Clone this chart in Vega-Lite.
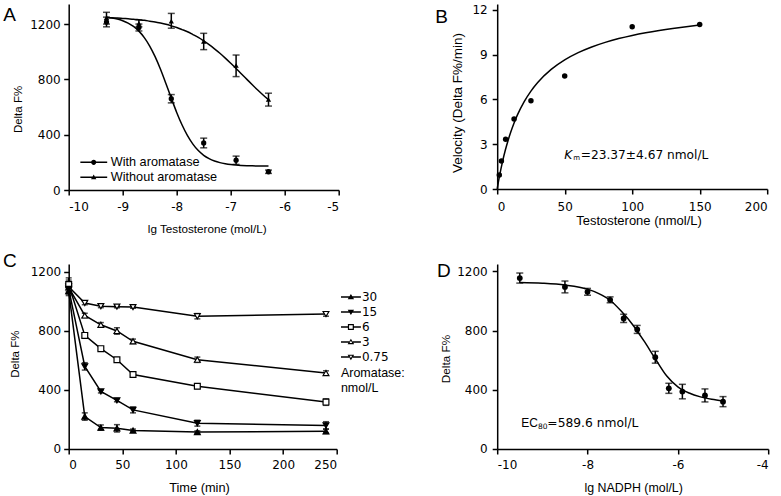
{
  "$schema": "https://vega.github.io/schema/vega-lite/v6.json",
  "background": "white",
  "padding": {"left": 2.7, "top": 3, "right": 0, "bottom": 0},
  "columns": 2,
  "bounds": "flush",
  "spacing": {"row": 74, "column": 158.5},
  "resolve": {"scale": {"shape": "independent", "fill": "independent"}, "legend": {"shape": "independent", "fill": "independent"}},
  "config": {
    "font": "Liberation Sans",
    "view": {"stroke": null},
    "axis": {"grid": false, "domainColor": "#000", "tickColor": "#000", "labelColor": "#000", "titleColor": "#000", "domainWidth": 1.5, "tickWidth": 1.5, "tickSize": 5, "labelFont": "DejaVu Sans", "labelFontSize": 12, "titleFont": "Liberation Sans", "titleFontWeight": "normal", "titleFontSize": 12, "titleBaseline": "middle", "format": "d"},
    "axisX": {"labelPadding": 6, "labelAngle": 0},
    "axisY": {"labelPadding": 3.5},
    "legend": {"labelFont": "Liberation Sans", "labelColor": "#000", "titleFont": "Liberation Sans", "titleFontWeight": "normal", "titleColor": "#000", "padding": 0, "rowPadding": 0, "symbolFillColor": "#000", "symbolStrokeWidth": 0}
  },
  "datasets": {
    "curveA": [
      {"series":"w","x":-9.3,"y":1250},{"series":"w","x":-9.2,"y":1244},{"series":"w","x":-9.1,"y":1236},{"series":"w","x":-9.0,"y":1224},{"series":"w","x":-8.9,"y":1207},{"series":"w","x":-8.8,"y":1183},{"series":"w","x":-8.7,"y":1149},{"series":"w","x":-8.6,"y":1102},{"series":"w","x":-8.5,"y":1041},{"series":"w","x":-8.4,"y":964},{"series":"w","x":-8.3,"y":873},{"series":"w","x":-8.2,"y":770},{"series":"w","x":-8.1,"y":664},{"series":"w","x":-8.0,"y":561},{"series":"w","x":-7.9,"y":470},{"series":"w","x":-7.8,"y":393},{"series":"w","x":-7.7,"y":332},{"series":"w","x":-7.6,"y":285},{"series":"w","x":-7.5,"y":251},{"series":"w","x":-7.4,"y":227},{"series":"w","x":-7.3,"y":210},{"series":"w","x":-7.2,"y":198},{"series":"w","x":-7.1,"y":190},{"series":"w","x":-7.0,"y":184},{"series":"w","x":-6.9,"y":180},{"series":"w","x":-6.8,"y":177.5},{"series":"w","x":-6.7,"y":175.7},{"series":"w","x":-6.6,"y":174.5},{"series":"w","x":-6.5,"y":173.7},{"series":"w","x":-6.4,"y":173.2},{"series":"w","x":-6.3,"y":172.8},
      {"series":"wo","x":-9.3,"y":1247},{"series":"wo","x":-9.2,"y":1245},{"series":"wo","x":-9.1,"y":1244},{"series":"wo","x":-9.0,"y":1241},{"series":"wo","x":-8.9,"y":1238},{"series":"wo","x":-8.8,"y":1235},{"series":"wo","x":-8.7,"y":1231},{"series":"wo","x":-8.6,"y":1227},{"series":"wo","x":-8.5,"y":1221},{"series":"wo","x":-8.4,"y":1215},{"series":"wo","x":-8.3,"y":1207},{"series":"wo","x":-8.2,"y":1198},{"series":"wo","x":-8.1,"y":1187},{"series":"wo","x":-8.0,"y":1175},{"series":"wo","x":-7.9,"y":1160},{"series":"wo","x":-7.8,"y":1144},{"series":"wo","x":-7.7,"y":1124},{"series":"wo","x":-7.6,"y":1103},{"series":"wo","x":-7.5,"y":1078},{"series":"wo","x":-7.4,"y":1051},{"series":"wo","x":-7.3,"y":1021},{"series":"wo","x":-7.2,"y":989},{"series":"wo","x":-7.1,"y":954},{"series":"wo","x":-7.0,"y":917},{"series":"wo","x":-6.9,"y":879},{"series":"wo","x":-6.8,"y":839},{"series":"wo","x":-6.7,"y":800},{"series":"wo","x":-6.6,"y":761},{"series":"wo","x":-6.5,"y":723},{"series":"wo","x":-6.4,"y":687},{"series":"wo","x":-6.3,"y":653}
    ],
    "pointsA": [
      {"series":"With aromatase","x":-9.3,"y":1215,"lo":1180,"hi":1250},
      {"series":"With aromatase","x":-8.7,"y":1175,"lo":1150,"hi":1200},
      {"series":"With aromatase","x":-8.1,"y":660,"lo":630,"hi":690},
      {"series":"With aromatase","x":-7.5,"y":340,"lo":305,"hi":375},
      {"series":"With aromatase","x":-6.9,"y":215,"lo":185,"hi":245},
      {"series":"With aromatase","x":-6.3,"y":132,"lo":120,"hi":144},
      {"series":"Without aromatase","x":-9.3,"y":1245,"lo":1200,"hi":1285},
      {"series":"Without aromatase","x":-8.7,"y":1205,"lo":1180,"hi":1230},
      {"series":"Without aromatase","x":-8.1,"y":1220,"lo":1170,"hi":1277},
      {"series":"Without aromatase","x":-7.5,"y":1075,"lo":1015,"hi":1133},
      {"series":"Without aromatase","x":-6.9,"y":900,"lo":820,"hi":976},
      {"series":"Without aromatase","x":-6.3,"y":655,"lo":607,"hi":700}
    ],
    "curveB": [
      {"x":0,"y":0},{"x":1,"y":0.521},{"x":2,"y":1.001},{"x":4,"y":1.856},{"x":6,"y":2.594},{"x":8,"y":3.239},{"x":10,"y":3.806},{"x":12.5,"y":4.426},{"x":15,"y":4.965},{"x":20,"y":5.857},{"x":25,"y":6.564},{"x":30,"y":7.139},{"x":40,"y":8.016},{"x":50,"y":8.655},{"x":60,"y":9.14},{"x":70,"y":9.521},{"x":80,"y":9.829},{"x":90,"y":10.082},{"x":100,"y":10.294},{"x":110,"y":10.475},{"x":120,"y":10.63},{"x":130,"y":10.765},{"x":140,"y":10.883},{"x":150,"y":10.988}
    ],
    "pointsB": [
      {"x":1.5625,"y":0.94},{"x":3.125,"y":1.88},{"x":6.25,"y":3.33},{"x":12.5,"y":4.69},{"x":25,"y":5.92},{"x":50,"y":7.58},{"x":100,"y":10.88},{"x":150,"y":11.02}
    ],
    "pointsC": [
      {"series":"0.75","x":0,"y":1100,"lo":1040,"hi":1160},{"series":"0.75","x":15,"y":990,"lo":978,"hi":1002},{"series":"0.75","x":30,"y":968,"lo":958,"hi":978},{"series":"0.75","x":45,"y":965,"lo":957,"hi":973},{"series":"0.75","x":60,"y":962,"lo":954,"hi":970},{"series":"0.75","x":120,"y":900,"lo":882,"hi":918},{"series":"0.75","x":240,"y":915,"lo":900,"hi":930},
      {"series":"3","x":0,"y":1095,"lo":1070,"hi":1120},{"series":"3","x":15,"y":905,"lo":890,"hi":920},{"series":"3","x":30,"y":842,"lo":827,"hi":857},{"series":"3","x":45,"y":800,"lo":778,"hi":822},{"series":"3","x":60,"y":730,"lo":715,"hi":745},{"series":"3","x":120,"y":605,"lo":587,"hi":623},{"series":"3","x":240,"y":515,"lo":500,"hi":530},
      {"series":"6","x":0,"y":1115,"lo":1085,"hi":1145},{"series":"6","x":15,"y":770,"lo":758,"hi":782},{"series":"6","x":30,"y":680,"lo":668,"hi":692},{"series":"6","x":45,"y":605,"lo":595,"hi":615},{"series":"6","x":60,"y":505,"lo":493,"hi":517},{"series":"6","x":120,"y":425,"lo":410,"hi":440},{"series":"6","x":240,"y":318,"lo":296,"hi":340},
      {"series":"15","x":0,"y":1085,"lo":1060,"hi":1110},{"series":"15","x":15,"y":560,"lo":535,"hi":585},{"series":"15","x":30,"y":390,"lo":380,"hi":400},{"series":"15","x":45,"y":330,"lo":320,"hi":340},{"series":"15","x":60,"y":265,"lo":245,"hi":285},{"series":"15","x":120,"y":175,"lo":155,"hi":195},{"series":"15","x":240,"y":160,"lo":135,"hi":185},
      {"series":"30","x":0,"y":1070,"lo":1050,"hi":1090},{"series":"30","x":15,"y":220,"lo":195,"hi":245},{"series":"30","x":30,"y":145,"lo":127,"hi":163},{"series":"30","x":45,"y":140,"lo":115,"hi":165},{"series":"30","x":60,"y":125,"lo":115,"hi":135},{"series":"30","x":120,"y":115,"lo":107,"hi":123},{"series":"30","x":240,"y":120,"lo":105,"hi":135}
    ],
    "curveD": [
      {"x":-9.5,"y":1125},{"x":-9.0,"y":1120},{"x":-8.5,"y":1108},{"x":-8.0,"y":1080},{"x":-7.75,"y":1050},{"x":-7.5,"y":1005},{"x":-7.25,"y":930},{"x":-7.0,"y":840},{"x":-6.75,"y":730},{"x":-6.5,"y":610},{"x":-6.25,"y":495},{"x":-6.0,"y":420},{"x":-5.75,"y":378},{"x":-5.5,"y":352},{"x":-5.25,"y":336},{"x":-5.0,"y":325}
    ],
    "pointsD": [
      {"x":-9.5,"y":1155,"lo":1121,"hi":1189},{"x":-8.5,"y":1095,"lo":1055,"hi":1135},{"x":-8.0,"y":1062,"lo":1039,"hi":1085},{"x":-7.5,"y":1008,"lo":988,"hi":1028},{"x":-7.2,"y":882,"lo":854,"hi":910},{"x":-6.9,"y":808,"lo":781,"hi":835},{"x":-6.5,"y":620,"lo":580,"hi":660},{"x":-6.2,"y":410,"lo":376,"hi":444},{"x":-5.9,"y":388,"lo":339,"hi":437},{"x":-5.4,"y":362,"lo":318,"hi":406},{"x":-5.0,"y":320,"lo":286,"hi":354}
    ]
  },
  "concat": [
    {
      "width": 270, "height": 186,
      "resolve": {"scale": {"shape": "independent"}, "legend": {"shape": "independent"}},
      "layer": [
        {"data": {"name": "curveA"}, "mark": {"type": "line", "color": "#000", "strokeWidth": 1.5, "interpolate": "monotone"},
         "encoding": {
           "x": {"field": "x", "type": "quantitative", "scale": {"domain": [-10, -5], "nice": false}, "axis": {"values": [-10,-9,-8,-7,-6,-5], "labelExpr": "replace(datum.label, '−', '-')", "title": "lg Testosterone (mol/L)", "titleFontSize": 11.7, "titleX": 138, "titleY": 38.5}},
           "y": {"field": "y", "type": "quantitative", "scale": {"domain": [0, 1345], "nice": false}, "axis": {"values": [0,400,800,1200], "title": "Delta F%", "titleFontSize": 11.5, "titleX": -49.8, "titleY": 105}},
           "detail": {"field": "series"}}},
        {"data": {"name": "pointsA"}, "mark": {"type": "errorbar", "ticks": true, "size": 7, "thickness": 1.5, "color": "#000"},
         "encoding": {
           "x": {"field": "x", "type": "quantitative", "scale": {"domain": [-10, -5], "nice": false}, "axis": {"values": [-10,-9,-8,-7,-6,-5], "labelExpr": "replace(datum.label, '−', '-')", "title": "lg Testosterone (mol/L)", "titleFontSize": 11.7, "titleX": 138, "titleY": 38.5}},
           "y": {"field": "lo", "type": "quantitative", "scale": {"domain": [0, 1345], "nice": false}, "axis": {"values": [0,400,800,1200], "title": "Delta F%", "titleFontSize": 11.5, "titleX": -49.8, "titleY": 105}},
           "y2": {"field": "hi"}}},
        {"data": {"name": "pointsA"}, "mark": {"type": "point", "filled": true, "color": "#000", "size": 28, "opacity": 1},
         "encoding": {
           "x": {"field": "x", "type": "quantitative", "scale": {"domain": [-10, -5], "nice": false}, "axis": {"values": [-10,-9,-8,-7,-6,-5], "labelExpr": "replace(datum.label, '−', '-')", "title": "lg Testosterone (mol/L)", "titleFontSize": 11.7, "titleX": 138, "titleY": 38.5}},
           "y": {"field": "y", "type": "quantitative", "scale": {"domain": [0, 1345], "nice": false}, "axis": {"values": [0,400,800,1200], "title": "Delta F%", "titleFontSize": 11.5, "titleX": -49.8, "titleY": 105}},
           "shape": {"field": "series", "type": "nominal", "scale": {"domain": ["With aromatase", "Without aromatase"], "range": ["circle", "triangle-up"]}, "legend": null}}},
        {"data": {"name": "pointsA"}, "transform": [{"filter": "false"}], "mark": {"type": "point", "filled": true, "color": "#000", "strokeWidth": 0, "opacity": 1},
         "encoding": {
           "x": {"field": "x", "type": "quantitative", "scale": {"domain": [-10, -5], "nice": false}},
           "y": {"field": "y", "type": "quantitative", "scale": {"domain": [0, 1345], "nice": false}},
           "shape": {"field": "series", "type": "nominal", "scale": {"domain": ["With aromatase", "Without aromatase"], "range": ["M-1,-0.056L1,-0.056L1,0.056L-1,0.056ZM0.193,0A0.193,0.193,0,1,1,-0.193,0A0.193,0.193,0,1,1,0.193,0Z", "M-1,-0.056L1,-0.056L1,0.056L-1,0.056ZM0,-0.21L0.2,0.14L-0.2,0.14Z"]},
             "legend": {"title": null, "orient": "none", "legendX": 11.5, "legendY": 150.8, "clipHeight": 15, "symbolSize": 729, "symbolFillColor": "#000", "symbolStrokeWidth": 0, "symbolOpacity": 1, "labelOffset": 3.5, "labelFontSize": 12.7, "columns": 1}}}},
        {"data": {"values": [{}]}, "mark": {"type": "text", "text": "A", "font": "Liberation Sans", "fontSize": 19, "align": "left", "baseline": "alphabetic", "color": "#000"},
         "encoding": {"x": {"datum": -11.213, "type": "quantitative"}, "y": {"datum": 1218.5, "type": "quantitative"}}}
      ]
    },
    {
      "width": 270, "height": 185,
      "layer": [
        {"data": {"name": "curveB"}, "mark": {"type": "line", "color": "#000", "strokeWidth": 1.5, "interpolate": "monotone"},
         "encoding": {
           "x": {"field": "x", "type": "quantitative", "scale": {"domain": [0, 200], "nice": false}, "axis": {"values": [0,50,100,150,200], "title": "Testosterone (nmol/L)", "titleFontSize": 13, "titleX": 141.3, "titleY": 31, "labelPadding": 7}},
           "y": {"field": "y", "type": "quantitative", "scale": {"domain": [0, 12.4], "nice": false}, "axis": {"values": [0,3,6,9,12], "title": "Velocity (Delta F%/min)", "titleFontSize": 13.5, "titleX": -39.3, "titleY": 98.5, "labelPadding": 5}}}},
        {"data": {"name": "pointsB"}, "mark": {"type": "point", "filled": true, "color": "#000", "size": 30, "opacity": 1},
         "encoding": {
           "x": {"field": "x", "type": "quantitative", "scale": {"domain": [0, 200], "nice": false}, "axis": {"values": [0,50,100,150,200], "title": "Testosterone (nmol/L)", "titleFontSize": 13, "titleX": 141.3, "titleY": 31, "labelPadding": 7}},
           "y": {"field": "y", "type": "quantitative", "scale": {"domain": [0, 12.4], "nice": false}, "axis": {"values": [0,3,6,9,12], "title": "Velocity (Delta F%/min)", "titleFontSize": 13.5, "titleX": -39.3, "titleY": 98.5, "labelPadding": 5}}}},
        {"data": {"values": [{}]}, "mark": {"type": "text", "text": "K", "font": "DejaVu Sans", "fontStyle": "italic", "fontSize": 12.2, "align": "left", "baseline": "alphabetic", "color": "#000"},
         "encoding": {"x": {"datum": 49.6, "type": "quantitative"}, "y": {"datum": 1.99, "type": "quantitative"}}},
        {"data": {"values": [{}]}, "mark": {"type": "text", "text": "m", "font": "DejaVu Sans", "fontSize": 7, "align": "left", "baseline": "alphabetic", "color": "#000"},
         "encoding": {"x": {"datum": 56.3, "type": "quantitative"}, "y": {"datum": 1.93, "type": "quantitative"}}},
        {"data": {"values": [{}]}, "mark": {"type": "text", "text": "=23.37±4.67 nmol/L", "font": "DejaVu Sans", "fontSize": 12.2, "align": "left", "baseline": "alphabetic", "color": "#000"},
         "encoding": {"x": {"datum": 61.85, "type": "quantitative"}, "y": {"datum": 1.99, "type": "quantitative"}}},
        {"data": {"values": [{}]}, "mark": {"type": "text", "text": "B", "font": "Liberation Sans", "fontSize": 19, "align": "left", "baseline": "alphabetic", "color": "#000"},
         "encoding": {"x": {"datum": -45.9, "type": "quantitative"}, "y": {"datum": 11.107, "type": "quantitative"}}}
      ]
    },
    {
      "width": 268, "height": 185,
      "resolve": {"scale": {"shape": "independent"}, "legend": {"shape": "independent"}},
      "layer": [
        {"data": {"name": "pointsC"}, "mark": {"type": "line", "color": "#000", "strokeWidth": 1.5},
         "encoding": {
           "x": {"field": "x", "type": "quantitative", "scale": {"domain": [0, 250], "nice": false}, "axis": {"values": [0,50,100,150,200,250], "title": "Time (min)", "titleFontSize": 12.8, "titleX": 130.3, "titleY": 39}},
           "y": {"field": "y", "type": "quantitative", "scale": {"domain": [0, 1254], "nice": false}, "axis": {"values": [0,200,400,600,800,1000,1200], "title": "Delta F%", "titleFontSize": 11.5, "titleX": -53, "titleY": 89.7, "labelPadding": 3}},
           "detail": {"field": "series"}}},
        {"data": {"name": "pointsC"}, "mark": {"type": "errorbar", "ticks": true, "size": 6, "thickness": 1.5, "color": "#000"},
         "encoding": {
           "x": {"field": "x", "type": "quantitative", "scale": {"domain": [0, 250], "nice": false}, "axis": {"values": [0,50,100,150,200,250], "title": "Time (min)", "titleFontSize": 12.8, "titleX": 130.3, "titleY": 39}},
           "y": {"field": "lo", "type": "quantitative", "scale": {"domain": [0, 1254], "nice": false}, "axis": {"values": [0,200,400,600,800,1000,1200], "title": "Delta F%", "titleFontSize": 11.5, "titleX": -53, "titleY": 89.7, "labelPadding": 3}},
           "y2": {"field": "hi"}}},
        {"data": {"name": "pointsC"}, "mark": {"type": "point", "filled": true, "size": 34, "stroke": "#000", "strokeWidth": 1.2, "opacity": 1},
         "encoding": {
           "x": {"field": "x", "type": "quantitative", "scale": {"domain": [0, 250], "nice": false}, "axis": {"values": [0,50,100,150,200,250], "title": "Time (min)", "titleFontSize": 12.8, "titleX": 130.3, "titleY": 39}},
           "y": {"field": "y", "type": "quantitative", "scale": {"domain": [0, 1254], "nice": false}, "axis": {"values": [0,200,400,600,800,1000,1200], "title": "Delta F%", "titleFontSize": 11.5, "titleX": -53, "titleY": 89.7, "labelPadding": 3}},
           "fill": {"field": "series", "type": "nominal", "scale": {"domain": ["30","15","6","3","0.75"], "range": ["#000","#000","#fff","#fff","#fff"]}, "legend": null},
           "shape": {"field": "series", "type": "nominal", "scale": {"domain": ["30","15","6","3","0.75"], "range": ["triangle-up","triangle-down","square","triangle-up","triangle-down"]}, "legend": null}}},
        {"data": {"name": "pointsC"}, "transform": [{"filter": "false"}], "mark": {"type": "point", "filled": true, "color": "#000", "strokeWidth": 0, "opacity": 1},
         "encoding": {
           "x": {"field": "x", "type": "quantitative", "scale": {"domain": [0, 250], "nice": false}},
           "y": {"field": "y", "type": "quantitative", "scale": {"domain": [0, 1254], "nice": false}},
           "shape": {"field": "series", "type": "nominal", "scale": {"domain": ["30","15","6","3","0.75"], "range": [
               "M-1,-0.075L1,-0.075L1,0.075L-1,0.075ZM0,-0.3L0.32,0.22L-0.32,0.22Z",
               "M-1,-0.075L1,-0.075L1,0.075L-1,0.075ZM0,0.3L-0.32,-0.22L0.32,-0.22Z",
               "M-1,-0.075L-0.3,-0.075L-0.3,0.075L-1,0.075ZM0.3,-0.075L1,-0.075L1,0.075L0.3,0.075ZM-0.3,-0.3L0.3,-0.3L0.3,0.3L-0.3,0.3ZM-0.18,-0.18L-0.18,0.18L0.18,0.18L0.18,-0.18Z",
               "M-1,-0.075L-0.19,-0.075L-0.19,0.075L-1,0.075ZM0.19,-0.075L1,-0.075L1,0.075L0.19,0.075ZM0,-0.32L0.33,0.22L-0.33,0.22ZM0,-0.109L-0.134,0.11L0.134,0.11Z",
               "M-1,-0.075L-0.19,-0.075L-0.19,0.075L-1,0.075ZM0.19,-0.075L1,-0.075L1,0.075L0.19,0.075ZM0,0.32L-0.33,-0.22L0.33,-0.22ZM0,0.109L0.134,-0.11L-0.134,-0.11Z"]},
             "legend": {"title": ["Aromatase:", "nmol/L"], "titleOrient": "bottom", "titleAnchor": "start", "titleAlign": "left", "titleFontSize": 12.5, "titleLineHeight": 15, "titlePadding": 3, "orient": "none", "legendX": 272.2, "legendY": 25.8, "clipHeight": 14.3, "symbolSize": 400, "symbolFillColor": "#000", "symbolStrokeWidth": 0, "symbolOpacity": 1, "labelOffset": 1, "labelFont": "DejaVu Sans", "labelFontSize": 12, "columns": 1}}}},
        {"data": {"values": [{}]}, "mark": {"type": "text", "text": "C", "font": "Liberation Sans", "fontSize": 19, "align": "left", "baseline": "alphabetic", "color": "#000"},
         "encoding": {"x": {"datum": -61.4, "type": "quantitative"}, "y": {"datum": 1231.6, "type": "quantitative"}}}
      ]
    },
    {
      "width": 271, "height": 185,
      "layer": [
        {"data": {"name": "curveD"}, "mark": {"type": "line", "color": "#000", "strokeWidth": 1.5, "interpolate": "monotone"},
         "encoding": {
           "x": {"field": "x", "type": "quantitative", "scale": {"domain": [-10, -4], "nice": false}, "axis": {"values": [-10,-8,-6,-4], "labelExpr": "replace(datum.label, '−', '-')", "title": "lg NADPH (mol/L)", "titleFontSize": 12.4, "titleX": 136, "titleY": 39}},
           "y": {"field": "y", "type": "quantitative", "scale": {"domain": [0, 1250], "nice": false}, "axis": {"values": [0,400,800,1200], "title": "Delta F%", "titleFontSize": 11.8, "titleX": -51.7, "titleY": 94.5, "labelPadding": 5}}}},
        {"data": {"name": "pointsD"}, "mark": {"type": "errorbar", "ticks": true, "size": 7, "thickness": 1.5, "color": "#000"},
         "encoding": {
           "x": {"field": "x", "type": "quantitative", "scale": {"domain": [-10, -4], "nice": false}, "axis": {"values": [-10,-8,-6,-4], "labelExpr": "replace(datum.label, '−', '-')", "title": "lg NADPH (mol/L)", "titleFontSize": 12.4, "titleX": 136, "titleY": 39}},
           "y": {"field": "lo", "type": "quantitative", "scale": {"domain": [0, 1250], "nice": false}, "axis": {"values": [0,400,800,1200], "title": "Delta F%", "titleFontSize": 11.8, "titleX": -51.7, "titleY": 94.5, "labelPadding": 5}},
           "y2": {"field": "hi"}}},
        {"data": {"name": "pointsD"}, "mark": {"type": "point", "filled": true, "color": "#000", "size": 34, "opacity": 1},
         "encoding": {
           "x": {"field": "x", "type": "quantitative", "scale": {"domain": [-10, -4], "nice": false}, "axis": {"values": [-10,-8,-6,-4], "labelExpr": "replace(datum.label, '−', '-')", "title": "lg NADPH (mol/L)", "titleFontSize": 12.4, "titleX": 136, "titleY": 39}},
           "y": {"field": "y", "type": "quantitative", "scale": {"domain": [0, 1250], "nice": false}, "axis": {"values": [0,400,800,1200], "title": "Delta F%", "titleFontSize": 11.8, "titleX": -51.7, "titleY": 94.5, "labelPadding": 5}}}},
        {"data": {"values": [{}]}, "mark": {"type": "text", "text": "EC", "font": "Liberation Sans", "fontSize": 12, "align": "left", "baseline": "alphabetic", "color": "#000"},
         "encoding": {"x": {"datum": -9.469, "type": "quantitative"}, "y": {"datum": 146.6, "type": "quantitative"}}},
        {"data": {"values": [{}]}, "mark": {"type": "text", "text": "80", "font": "DejaVu Sans", "fontSize": 7.5, "align": "left", "baseline": "alphabetic", "color": "#000"},
         "encoding": {"x": {"datum": -9.099, "type": "quantitative"}, "y": {"datum": 131.8, "type": "quantitative"}}},
        {"data": {"values": [{}]}, "mark": {"type": "text", "text": "=589.6 nmol/L", "font": "DejaVu Sans", "fontSize": 12.3, "align": "left", "baseline": "alphabetic", "color": "#000"},
         "encoding": {"x": {"datum": -8.889, "type": "quantitative"}, "y": {"datum": 146.6, "type": "quantitative"}}},
        {"data": {"values": [{}]}, "mark": {"type": "text", "text": "D", "font": "Liberation Sans", "fontSize": 19, "align": "left", "baseline": "alphabetic", "color": "#000"},
         "encoding": {"x": {"datum": -11.335, "type": "quantitative"}, "y": {"datum": 1160.1, "type": "quantitative"}}}
      ]
    }
  ]
}
